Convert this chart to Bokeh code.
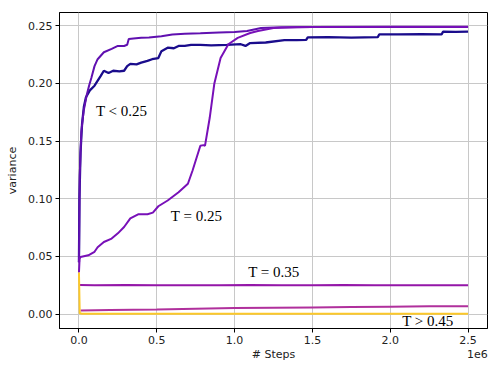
from bokeh.plotting import figure
from bokeh.models import (Range1d, FixedTicker, NumeralTickFormatter, CustomJSTickFormatter, Label,
                          LinearAxis)
from bokeh.embed import file_html
from bokeh.resources import INLINE

# ---- data (x in millions of steps) ----
navy_x = [0, 0.003, 0.01, 0.02, 0.032, 0.045, 0.07, 0.1, 0.14, 0.16, 0.19, 0.22, 0.26, 0.29, 0.31, 0.33,
          0.37, 0.40, 0.44, 0.47, 0.51, 0.53, 0.57, 0.61, 0.64, 0.68, 0.72, 0.78, 0.85, 0.95, 1.04, 1.07,
          1.1, 1.2, 1.32, 1.4, 1.46, 1.47, 1.6, 1.75, 1.92, 1.93, 2.05, 2.2, 2.33, 2.34, 2.42, 2.5]
navy_y = [0.045, 0.10, 0.14, 0.165, 0.180, 0.188, 0.194, 0.198, 0.2065, 0.211, 0.209, 0.211, 0.2105, 0.211,
          0.215, 0.217, 0.2165, 0.218, 0.2195, 0.221, 0.222, 0.228, 0.231, 0.2305, 0.2325, 0.2325, 0.2335,
          0.2335, 0.2330, 0.2335, 0.234, 0.2325, 0.235, 0.2355, 0.2375, 0.2375, 0.2378, 0.240, 0.2402,
          0.2398, 0.2402, 0.2426, 0.2425, 0.2428, 0.2426, 0.2449, 0.2447, 0.245]

purple_x = [0, 0.005, 0.015, 0.03, 0.05, 0.065, 0.08, 0.1, 0.12, 0.16, 0.21, 0.25, 0.29, 0.31, 0.32,
            0.35, 0.4, 0.45, 0.53, 0.6, 0.68, 0.78, 0.9, 1.0, 1.08, 1.17, 1.3, 1.5, 2.0, 2.5]
purple_y = [0.045, 0.12, 0.158, 0.176, 0.190, 0.198, 0.205, 0.215, 0.221, 0.227, 0.230, 0.2325, 0.2325,
            0.2335, 0.2385, 0.239, 0.2395, 0.2398, 0.241, 0.2425, 0.243, 0.2435, 0.2442, 0.2445, 0.2455,
            0.248, 0.2488, 0.249, 0.249, 0.249]

violet_x = [0, 0.004, 0.01, 0.06, 0.1, 0.12, 0.16, 0.21, 0.25, 0.29, 0.33, 0.38, 0.44, 0.475, 0.51, 0.57,
            0.64, 0.70, 0.73, 0.78, 0.80, 0.81, 0.84, 0.87, 0.91, 0.96, 1.02, 1.1, 1.15, 1.25, 1.4, 1.5,
            2.0, 2.5]
violet_y = [0.036, 0.048, 0.0495, 0.051, 0.054, 0.058, 0.0625, 0.0655, 0.070, 0.0755, 0.083, 0.0865,
            0.0865, 0.088, 0.0935, 0.0985, 0.1057, 0.113, 0.1245, 0.146, 0.1465, 0.146, 0.170, 0.200,
            0.222, 0.234, 0.2395, 0.2437, 0.2455, 0.248, 0.2488, 0.249, 0.2492, 0.2492]

t35_x = [0.004, 0.1, 0.3, 0.5, 0.7, 0.9, 1.1, 1.3, 1.5, 1.7, 1.9, 2.1, 2.3, 2.5]
t35_y = [0.0252, 0.0250, 0.0253, 0.0249, 0.0251, 0.0250, 0.0252, 0.0249, 0.0251, 0.0253, 0.0250,
         0.0251, 0.0249, 0.0250]

t40_x = [0.01, 0.2, 0.5, 0.75, 1.0, 1.25, 1.5, 1.75, 2.0, 2.25, 2.5]
t40_y = [0.003, 0.0035, 0.0040, 0.0046, 0.0052, 0.0055, 0.0058, 0.0061, 0.0064, 0.0067, 0.0069]

t45_x = [0, 0.005, 0.02, 2.5]
t45_y = [0.036, 0.0008, 0.0003, 0.0002]

x_ticks = [0.0, 0.5, 1.0, 1.5, 2.0, 2.5]
y_ticks = [0.0, 0.05, 0.10, 0.15, 0.20, 0.25]

labels = ["T < 0.25", "T = 0.25", "T = 0.35", "T > 0.45"]
label_x = [0.109, 0.59, 1.087, 2.077]
label_y = [0.1763, 0.0851, 0.0363, -0.0062]

x_title = "# Steps"
x_offset_text = "1e6"

SCALE = 1e6

def sx(v):
    return [a * SCALE for a in v]

p = figure(width=498, height=374, output_backend="svg", toolbar_location=None,
           x_range=Range1d(-0.125 * SCALE, 2.625 * SCALE), y_range=Range1d(-0.0125, 0.2615),
           min_border_left=59, min_border_right=11, min_border_top=12, min_border_bottom=46)

p.background_fill_color = "white"
p.border_fill_color = "white"
p.outline_line_color = "black"
p.outline_line_width = 1
p.xgrid.grid_line_color = "#c8c8c8"
p.ygrid.grid_line_color = "#c8c8c8"
p.xgrid.grid_line_width = 1
p.ygrid.grid_line_width = 1

lw = 2
p.line(sx(navy_x), navy_y, line_color="#1a0c8c", line_width=2.3)
p.line(sx(purple_x), purple_y, line_color="#6010b0", line_width=lw)
p.line(sx(violet_x), violet_y, line_color="#7810b8", line_width=lw)
p.line(sx(t35_x), t35_y, line_color="#9416a8", line_width=lw)
p.line(sx(t40_x), t40_y, line_color="#b0309c", line_width=lw)
p.line(sx(t45_x), t45_y, line_color="#fcc829", line_width=lw)

for t, lx, ly in zip(labels, label_x, label_y):
    p.add_layout(Label(x=lx * SCALE, y=ly, text=t, text_font="Liberation Serif", text_font_size="15px",
                       text_color="black", text_baseline="middle", text_align="left"))

p.xaxis.ticker = FixedTicker(ticks=sx(x_ticks))
p.yaxis.ticker = FixedTicker(ticks=y_ticks)
p.xaxis.formatter = CustomJSTickFormatter(code="return (tick/1e6).toFixed(1);")
p.yaxis.formatter = NumeralTickFormatter(format="0.00")

for ax in (p.xaxis[0], p.yaxis[0]):
    ax.major_label_text_font = "DejaVu Sans"
    ax.major_label_text_font_size = "11px"
    ax.major_label_text_color = "#222222"
    ax.axis_label_text_font = "DejaVu Sans"
    ax.axis_label_text_font_size = "11px"
    ax.axis_label_text_font_style = "normal"
    ax.axis_label_text_color = "#222222"
    ax.axis_line_color = "black"
    ax.major_tick_line_color = "black"
    ax.major_tick_out = 4
    ax.major_tick_in = 0
    ax.minor_tick_line_color = None
    ax.major_label_standoff = 3

p.yaxis.axis_label = "variance"
p.yaxis.axis_label_standoff = 6

# second row below the tick labels: "# Steps" centred and the "1e6" offset text at the right
row_axis = LinearAxis(ticker=FixedTicker(ticks=[1250000, 2560000]),
                      formatter=CustomJSTickFormatter(
                          args=dict(a=x_title, b=x_offset_text),
                          code="return tick > 2000000 ? b : a;"),
                      axis_line_color=None, major_tick_line_color=None, minor_tick_line_color=None,
                      major_tick_out=0, major_tick_in=0, major_label_standoff=1,
                      major_label_text_font="DejaVu Sans", major_label_text_font_size="11px",
                      major_label_text_color="#222222")
p.add_layout(row_axis, "below")

open("out.html", "w").write(file_html(p, INLINE))
